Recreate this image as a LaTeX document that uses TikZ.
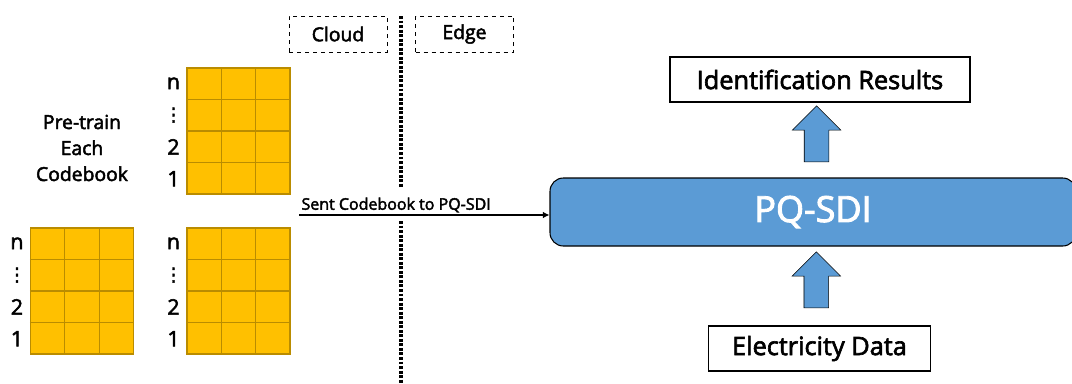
\documentclass[tikz,border=0pt]{standalone}
\usepackage{fontspec}
\setmainfont{Open Sans}
\newfontfamily\medfont{Open Sans}[FakeBold=2.5]
\newfontfamily\dotfont{DejaVu Sans}[FakeBold=2.5]
\usetikzlibrary{shapes.arrows,arrows.meta,calc}

\definecolor{bookfill}{HTML}{FFC000}
\definecolor{bookline}{HTML}{BA8C00}
\definecolor{pqblue}{HTML}{5B9BD5}

\tikzset{
  codebook/.style={
    rectangle,
    draw=bookline,
    fill=bookfill,
    line width=0.8pt,
    minimum width=77.25pt,
    minimum height=94.5pt,
    inner sep=0pt
  },
  rowlabel/.style={
    inner sep=0pt,
    font=\medfont\fontsize{16}{18}\selectfont
  },
  tag/.style={
    rectangle,
    draw,
    dashed,
    minimum width=73.5pt,
    minimum height=27pt,
    font=\medfont\fontsize{14.5}{16}\selectfont
  },
  result/.style={
    rectangle,
    draw,
    thick,
    inner sep=0pt,
    font=\medfont\fontsize{19}{22}\selectfont
  },
  upblock/.style={
    single arrow,
    draw,
    fill=pqblue,
    rotate=90,
    minimum height=42pt,
    minimum width=36pt,
    inner xsep=0pt,
    inner ysep=9pt,
    single arrow head extend=9pt
  },
}

\begin{document}
\begin{tikzpicture}[x=0.75pt, y=-0.75pt]
  \clip (0, 0) rectangle (1072, 383);
  % codebooks
  \node[codebook, anchor=center] (cbtop) at (238.5, 131) {};
  \node[codebook, anchor=center] (cbleft) at (82, 291) {};
  \node[codebook, anchor=center] (cbright) at (238.5, 291) {};
  \foreach \g in {cbtop, cbleft, cbright} {
    \draw[bookline, line width=0.8pt] ($(\g.north west)!1/3!(\g.north east)$) -- ($(\g.south west)!1/3!(\g.south east)$);
    \draw[bookline, line width=0.8pt] ($(\g.north west)!2/3!(\g.north east)$) -- ($(\g.south west)!2/3!(\g.south east)$);
    \draw[bookline, line width=0.8pt] ($(\g.north west)!1/4!(\g.south west)$) -- ($(\g.north east)!1/4!(\g.south east)$);
    \draw[bookline, line width=0.8pt] ($(\g.north west)!1/2!(\g.south west)$) -- ($(\g.north east)!1/2!(\g.south east)$);
    \draw[bookline, line width=0.8pt] ($(\g.north west)!3/4!(\g.south west)$) -- ($(\g.north east)!3/4!(\g.south east)$);
    \node[rowlabel, anchor=center] at ($(\g.north west)!1/8!(\g.south west) + (-13, 0)$) {n};
    \node[rowlabel, anchor=center] at ($(\g.north west)!3/8!(\g.south west) + (-13, 0)$) {\dotfont\fontsize{14}{14}\selectfont ⋮};
    \node[rowlabel, anchor=center] at ($(\g.north west)!5/8!(\g.south west) + (-13, 0)$) {2};
    \node[rowlabel, anchor=center] at ($(\g.north west)!7/8!(\g.south west) + (-13, 0)$) {1};
  }
  \node[align=center, font=\medfont\fontsize{14.5}{19.5}\selectfont, anchor=center] (pretrain) at (82, 148) {Pre-train\\Each\\Codebook};

  % cloud / edge split
  \node[tag, anchor=center] (cloud) at (338, 34) {Cloud};
  \node[tag, anchor=center] (edge) at (464.5, 34) {Edge};
  \coordinate (divtop) at (401, 16);
  \coordinate (divmid) at (401, 187);
  \coordinate (divlow) at (401, 221);
  \coordinate (divend) at (401, 385);
  \draw[line width=2.4pt, dash pattern=on 2.2pt off 1.2pt] (divtop) -- (divmid);
  \draw[line width=2.4pt, dash pattern=on 2.2pt off 1.2pt] (divlow) -- (divend);

  % edge side
  \node[rectangle, rounded corners=10pt, draw, thick, fill=pqblue, text=white,
        minimum width=394.5pt, minimum height=51pt,
        font=\medfont\fontsize{27}{30}\selectfont, anchor=center] (pqsdi) at (813, 212) {PQ-SDI};
  \node[result, minimum width=225pt, minimum height=33.75pt, anchor=center] (ident) at (820, 79.5) {Identification Results};
  \node[result, minimum width=167pt, minimum height=33.75pt, anchor=center] (elec) at (819.5, 348.5) {Electricity Data};
  \node[upblock, anchor=center] (up1) at ($(elec.north)!0.5!(pqsdi.south)$) {};
  \node[upblock, anchor=center] (up2) at ($(pqsdi.north)!0.5!(ident.south)$) {};

  \coordinate (send) at (299, 215);
  \draw[-{Latex[length=5pt, width=5pt]}, thick] (send) -- (pqsdi.west |- send)
    node[pos=0, anchor=south west, inner sep=1.5pt, font=\medfont\fontsize{12}{14}\selectfont] {Sent Codebook to PQ-SDI};
\end{tikzpicture}
\end{document}
